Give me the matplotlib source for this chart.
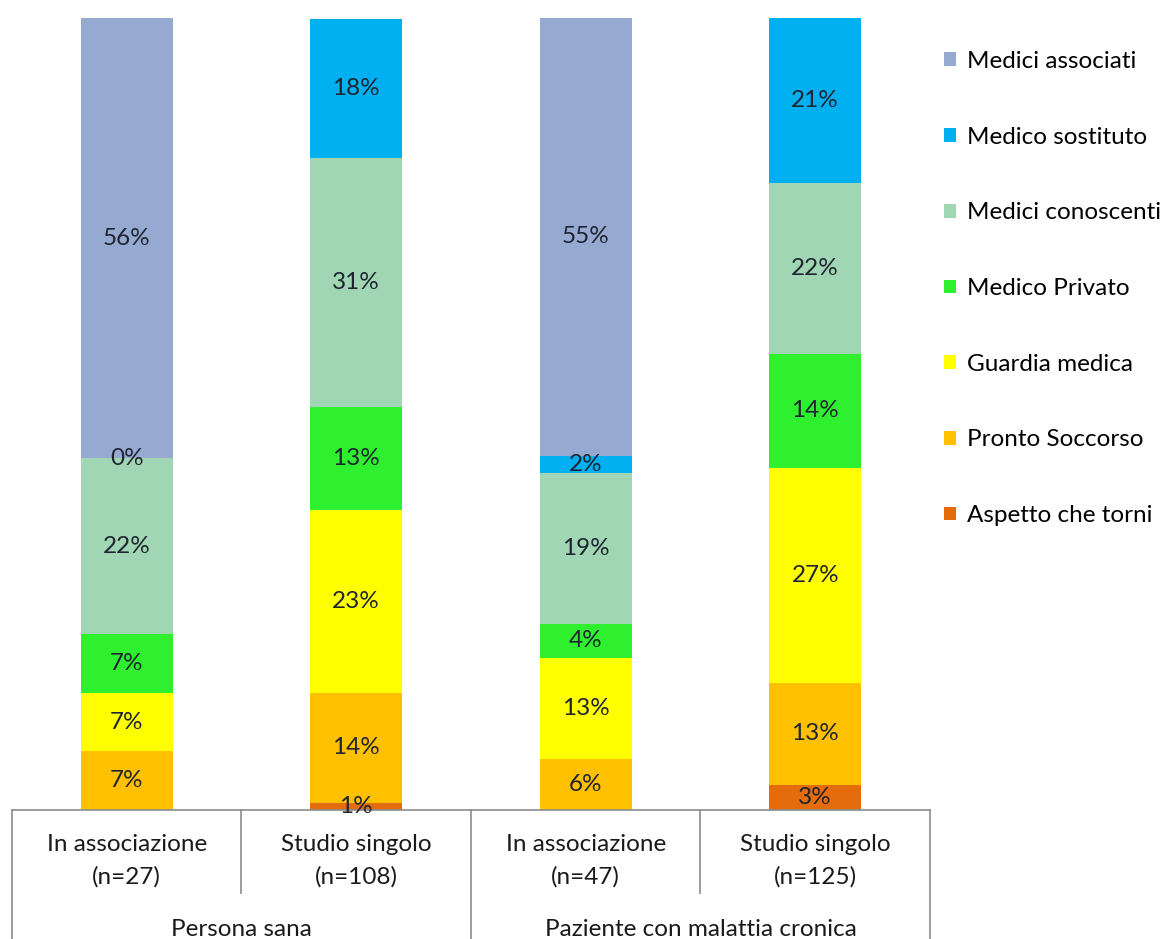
import matplotlib
matplotlib.use("Agg")
import matplotlib.pyplot as plt
import matplotlib.transforms as mtransforms
from matplotlib.patches import Patch
import numpy as np

plt.rcParams['font.family'] = ['Lato', 'DejaVu Sans']

groups = ["Persona sana", "Paziente con malattia cronica"]
categories = ["In associazione\n(n=27)", "Studio singolo\n(n=108)",
              "In associazione\n(n=47)", "Studio singolo\n(n=125)"]

# stacking order bottom -> top
series = ["Aspetto che torni", "Pronto Soccorso", "Guardia medica", "Medico Privato",
          "Medici conoscenti", "Medico sostituto", "Medici associati"]
nan = np.nan
values = {
    "Aspetto che torni": [nan, 0.9, nan, 3.2],
    "Pronto Soccorso":   [7.4, 13.9, 6.4, 12.8],
    "Guardia medica":    [7.4, 23.1, 12.8, 27.2],
    "Medico Privato":    [7.4, 13.0, 4.3, 14.4],
    "Medici conoscenti": [22.2, 31.4, 19.1, 21.6],
    "Medico sostituto":  [0.0, 17.6, 2.1, 20.8],
    "Medici associati":  [55.6, nan, 55.3, nan],
}
colors = {
    "Aspetto che torni": "#E46C0A",
    "Pronto Soccorso":   "#FFC000",
    "Guardia medica":    "#FFFF00",
    "Medico Privato":    "#2EF02E",
    "Medici conoscenti": "#A0D6B4",
    "Medico sostituto":  "#00B0F0",
    "Medici associati":  "#95A9D1",
}

W, H = 1165, 939
FS = 17.5
fig = plt.figure(figsize=(W / 100, H / 100), dpi=100)
ax = fig.add_axes([12 / W, 1 - 810 / H, 918 / W, 792 / H])

x = np.arange(len(categories))
bottom = np.zeros(len(categories))
for s in series:
    v = np.array(values[s], dtype=float)
    h = np.nan_to_num(v)
    ax.bar(x, h, 0.4, bottom=bottom, color=colors[s], linewidth=0)
    for i in range(len(x)):
        if not np.isnan(v[i]):
            ax.text(x[i], bottom[i] + h[i] / 2, f"{v[i]:.0f}%", ha="center", va="center",
                    fontsize=FS, color="#1F2430")
    bottom += h

ax.set_xlim(-0.5, 3.5)
ax.set_ylim(0, 100)
ax.axis("off")

# category table below the plot
tr = mtransforms.blended_transform_factory(ax.transData, fig.transFigure)
def fy(py):
    return 1 - py / H
lc = "#8C8C8C"
ax.plot([-0.5, 3.5], [fy(810), fy(810)], transform=tr, color=lc, lw=1.2, clip_on=False)
for xe, ybot in [(-0.5, 939), (0.5, 893), (1.5, 939), (2.5, 893), (3.5, 939)]:
    ax.plot([xe, xe], [fy(810), fy(ybot)], transform=tr, color=lc, lw=1.2, clip_on=False)
for i, c in enumerate(categories):
    ax.text(x[i], fy(861), c, transform=tr, ha="center", va="center", fontsize=FS,
            color="#1A1A1A", linespacing=1.6)
for g, name in enumerate(groups):
    ax.text(0.5 + 2 * g, fy(929), name, transform=tr, ha="center", va="center",
            fontsize=FS, color="#1A1A1A")

# legend
legend_order = ["Medici associati", "Medico sostituto", "Medici conoscenti", "Medico Privato",
                "Guardia medica", "Pronto Soccorso", "Aspetto che torni"]
handles = [Patch(facecolor=colors[s], edgecolor="none", label=s) for s in legend_order]
fig.legend(handles=handles, loc="upper left", bbox_to_anchor=(944 / W, 1 - 51 / H),
           frameon=False, fontsize=FS, handlelength=0.5, handleheight=0.5,
           handletextpad=0.45, labelspacing=2.25, borderaxespad=0, borderpad=0)

fig.savefig("out.png", dpi=100, facecolor="white")
